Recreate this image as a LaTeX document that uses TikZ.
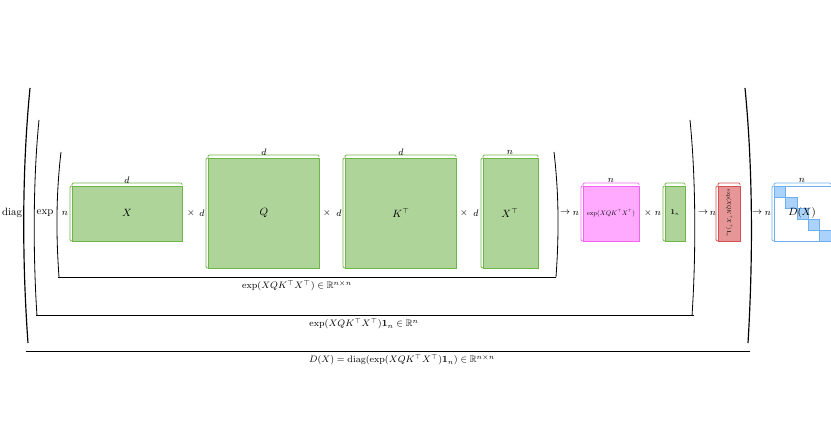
\documentclass[tikz,border=0pt]{standalone}
\usepackage{amsmath,amssymb,graphicx}
\definecolor{gfill}{RGB}{174,212,153}\definecolor{gdraw}{RGB}{110,180,70}
\definecolor{mfill}{RGB}{255,170,255}\definecolor{mdraw}{RGB}{240,100,240}
\definecolor{rfill}{RGB}{230,150,150}\definecolor{rdraw}{RGB}{210,80,80}
\definecolor{bfill}{RGB}{170,210,250}\definecolor{bdraw}{RGB}{110,175,240}
\begin{document}
\begin{tikzpicture}[x=0.03cm,y=-0.03cm,font=\small,
  lab/.style={inner sep=1pt},
  paren/.style={line width=0.7pt},
  bline/.style={line width=0.4pt}]
\useasboundingbox (0,0) rectangle (831,428);
\newcommand{\mymat}[6]{%
  \fill[#5,draw=#6,line width=0.6pt] (#1,#2) rectangle (#3,#4);
  \draw[#6,line width=0.7pt,rounded corners=1pt] (#1,#2-1) -- (#1,#2-3) -- (#3,#2-3) -- (#3,#2-1);
  \draw[#6,line width=0.7pt,rounded corners=1pt] (#1+1,#2) -- (#1-2,#2) -- (#1-2,#4) -- (#1+1,#4);
}
\mymat{72}{186}{182}{241}{gfill}{gdraw}
\mymat{208}{158}{319}{268}{gfill}{gdraw}
\mymat{345}{158}{456}{268}{gfill}{gdraw}
\mymat{483}{158}{538}{268}{gfill}{gdraw}
\mymat{583}{186}{639}{241}{mfill}{mdraw}
\mymat{665}{186}{685}{241}{gfill}{gdraw}
\mymat{718}{186}{740}{241}{rfill}{rdraw}
\fill[white,draw=bdraw,line width=0.6pt] (774,186) rectangle (831,241);
\foreach \i in {0,...,4} \fill[bfill,draw=bdraw,line width=0.3pt] (774+11.4*\i,186+11*\i) rectangle ++(11.4,11);
\draw[bdraw,line width=0.7pt,rounded corners=1pt] (774,185) -- (774,183) -- (831,183) -- (831,185);
\draw[bdraw,line width=0.7pt,rounded corners=1pt] (775,186) -- (772,186) -- (772,241) -- (775,241);
\node[lab] (X) at (127,213) {$X$};
\node[lab] (Q) at (264,213) {$Q$};
\node[lab] (K) at (401,213) {$K^\top$};
\node[lab] (XT) at (510,213) {$X^\top$};
\node[lab] (E) at (611,213) {\scalebox{0.62}{$\exp(XQK^\top X^\top)$}};
\node[lab] (one) at (675,213) {\scalebox{0.7}{$\mathbf{1}_n$}};
\node[lab,rotate=-90] (r) at (729,213) {\scalebox{0.52}{$\exp(XQK^\top X^\top)\mathbf{1}_n$}};
\node[lab] (D) at (802,213) {$D(X)$};
\node[lab,font=\footnotesize] at (127,180) {$d$};
\node[lab,font=\footnotesize] at (264,152) {$d$};
\node[lab,font=\footnotesize] at (401,152) {$d$};
\node[lab,font=\footnotesize] at (510,152) {$n$};
\node[lab,font=\footnotesize] at (611,180) {$n$};
\node[lab,font=\footnotesize] at (802,180) {$n$};
\node[lab,font=\footnotesize] at (65,213) {$n$};
\node[lab,font=\footnotesize] at (191,213) {$\times$};
\node[lab,font=\footnotesize] at (202,213) {$d$};
\node[lab,font=\footnotesize] at (327,213) {$\times$};
\node[lab,font=\footnotesize] at (339,213) {$d$};
\node[lab,font=\footnotesize] at (464,213) {$\times$};
\node[lab,font=\footnotesize] at (476,213) {$d$};
\node[lab,font=\footnotesize] at (565,213) {$\rightarrow$};
\node[lab,font=\footnotesize] at (576,213) {$n$};
\node[lab,font=\footnotesize] at (648,213) {$\times$};
\node[lab,font=\footnotesize] at (658,213) {$n$};
\node[lab,font=\footnotesize] at (703,213) {$\rightarrow$};
\node[lab,font=\footnotesize] at (713,213) {$n$};
\node[lab,font=\footnotesize] at (757,213) {$\rightarrow$};
\node[lab,font=\footnotesize] at (768,213) {$n$};
\node[lab] at (12,213) {diag};
\node[lab] at (45,213) {$\exp$};
\draw[paren] (61,152) .. controls (56,195) and (56,235) .. (59,277);
\draw[paren] (554,152) .. controls (559,195) and (559,235) .. (556,277);
\draw[paren] (39,120) .. controls (33,180) and (33,255) .. (37,316);
\draw[paren] (690,120) .. controls (696,180) and (696,255) .. (692,316);
\draw[line width=1pt] (30,88) .. controls (22,170) and (22,260) .. (28,343);
\draw[line width=1pt] (745,88) .. controls (753,170) and (753,260) .. (748,343);
\draw[bline] (58,277) -- (556,277);
\node[lab,font=\footnotesize] at (297,286) {$\exp(XQK^\top X^\top)\in\mathbb{R}^{n\times n}$};
\draw[bline] (36,315) -- (694,315);
\node[lab,font=\footnotesize] at (364,324) {$\exp(XQK^\top X^\top)\mathbf{1}_n\in\mathbb{R}^{n}$};
\draw[bline] (26,351) -- (750,351);
\node[lab,font=\footnotesize] at (402,360) {$D(X)=\operatorname{diag}(\exp(XQK^\top X^\top)\mathbf{1}_n)\in\mathbb{R}^{n\times n}$};
\end{tikzpicture}
\end{document}
